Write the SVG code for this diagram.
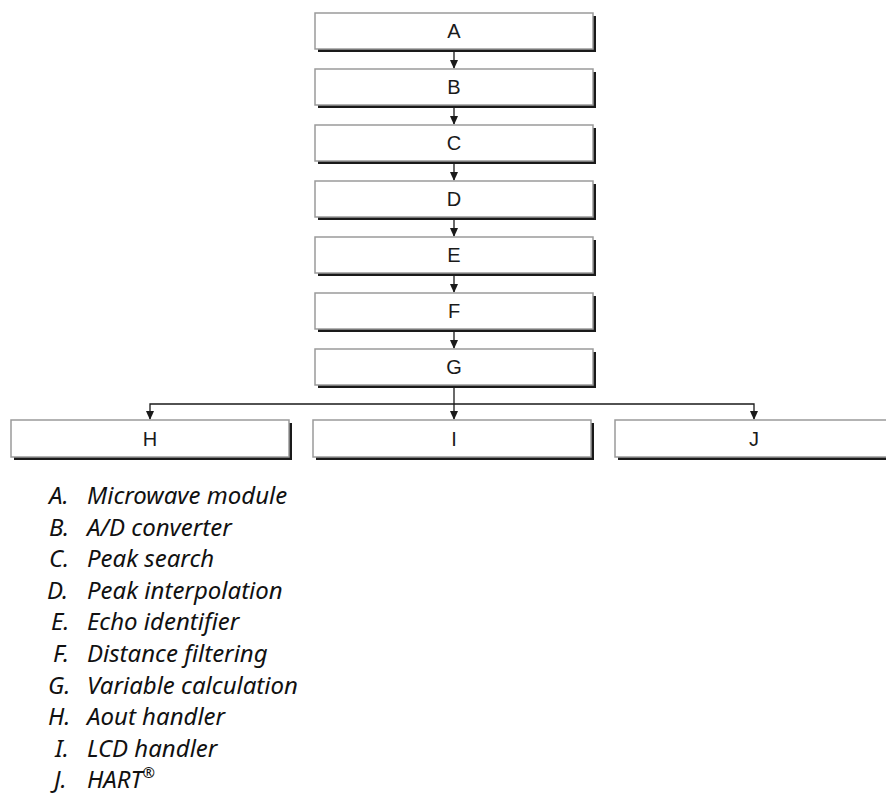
<svg xmlns="http://www.w3.org/2000/svg" width="886" height="802" viewBox="0 0 886 802">
<style>
.sh{fill:#1a1a1a}
.bx{fill:#fff;stroke:#9a9a9a;stroke-width:1.5}
.lb{font-family:"Liberation Sans",Arial,sans-serif;font-size:20px;fill:#1a1a1a;text-anchor:middle}
.cn{fill:none;stroke:#1a1a1a;stroke-width:1.3}
.lg{font-family:"Noto Sans",sans-serif;font-style:italic;font-size:24px;fill:#111}
</style>
<rect width="886" height="802" fill="#fff"/>
<g id="connectors">
<line class="cn" x1="454" y1="49" x2="454" y2="68"/>
<path d="M450,60 L458,60 L454,69 Z" class="sh"/>
<line class="cn" x1="454" y1="105" x2="454" y2="124"/>
<path d="M450,116 L458,116 L454,125 Z" class="sh"/>
<line class="cn" x1="454" y1="161" x2="454" y2="180"/>
<path d="M450,172 L458,172 L454,181 Z" class="sh"/>
<line class="cn" x1="454" y1="217" x2="454" y2="236"/>
<path d="M450,228 L458,228 L454,237 Z" class="sh"/>
<line class="cn" x1="454" y1="273" x2="454" y2="292"/>
<path d="M450,284 L458,284 L454,293 Z" class="sh"/>
<line class="cn" x1="454" y1="329" x2="454" y2="348"/>
<path d="M450,340 L458,340 L454,349 Z" class="sh"/>
<line class="cn" x1="454" y1="385" x2="454" y2="419"/>
<path d="M450,411 L458,411 L454,420 Z" class="sh"/>
<polyline class="cn" points="150,419 150,404 754,404 754,419"/>
<path d="M146,411 L154,411 L150,420 Z" class="sh"/>
<path d="M750,411 L758,411 L754,420 Z" class="sh"/>
</g>
<g id="A"><rect class="sh" x="318" y="16" width="278" height="36"/><rect class="bx" x="315" y="13" width="278" height="36"/><text class="lb" x="454" y="38">A</text></g>
<g id="B"><rect class="sh" x="318" y="72" width="278" height="36"/><rect class="bx" x="315" y="69" width="278" height="36"/><text class="lb" x="454" y="94">B</text></g>
<g id="C"><rect class="sh" x="318" y="128" width="278" height="36"/><rect class="bx" x="315" y="125" width="278" height="36"/><text class="lb" x="454" y="150">C</text></g>
<g id="D"><rect class="sh" x="318" y="184" width="278" height="36"/><rect class="bx" x="315" y="181" width="278" height="36"/><text class="lb" x="454" y="206">D</text></g>
<g id="E"><rect class="sh" x="318" y="240" width="278" height="36"/><rect class="bx" x="315" y="237" width="278" height="36"/><text class="lb" x="454" y="262">E</text></g>
<g id="F"><rect class="sh" x="318" y="296" width="278" height="36"/><rect class="bx" x="315" y="293" width="278" height="36"/><text class="lb" x="454" y="318">F</text></g>
<g id="G"><rect class="sh" x="318" y="352" width="278" height="36"/><rect class="bx" x="315" y="349" width="278" height="36"/><text class="lb" x="454" y="374">G</text></g>
<g id="H"><rect class="sh" x="14" y="423" width="278" height="37"/><rect class="bx" x="11" y="420" width="278" height="37"/><text class="lb" x="150" y="446">H</text></g>
<g id="I"><rect class="sh" x="316" y="423" width="278" height="37"/><rect class="bx" x="313" y="420" width="278" height="37"/><text class="lb" x="454" y="446">I</text></g>
<g id="J"><rect class="sh" x="618" y="423" width="280" height="37"/><rect class="bx" x="615" y="420" width="280" height="37"/><text class="lb" x="754" y="446">J</text></g>
<g id="legend">
<text class="lg" x="49" y="504">A.</text><text class="lg" x="87" y="504">Microwave module</text>
<text class="lg" x="49" y="536">B.</text><text class="lg" x="87" y="536">A/D converter</text>
<text class="lg" x="49" y="567">C.</text><text class="lg" x="87" y="567">Peak search</text>
<text class="lg" x="47" y="599">D.</text><text class="lg" x="87" y="599">Peak interpolation</text>
<text class="lg" x="51" y="630">E.</text><text class="lg" x="87" y="630">Echo identifier</text>
<text class="lg" x="53" y="662">F.</text><text class="lg" x="87" y="662">Distance filtering</text>
<text class="lg" x="48" y="694">G.</text><text class="lg" x="87" y="694">Variable calculation</text>
<text class="lg" x="48" y="725">H.</text><text class="lg" x="87" y="725">Aout handler</text>
<text class="lg" x="55" y="757">I.</text><text class="lg" x="87" y="757">LCD handler</text>
<text class="lg" x="54" y="788">J.</text><text class="lg" x="87" y="788">HART<tspan font-size="15" dy="-10">®</tspan></text>
</g>
</svg>
